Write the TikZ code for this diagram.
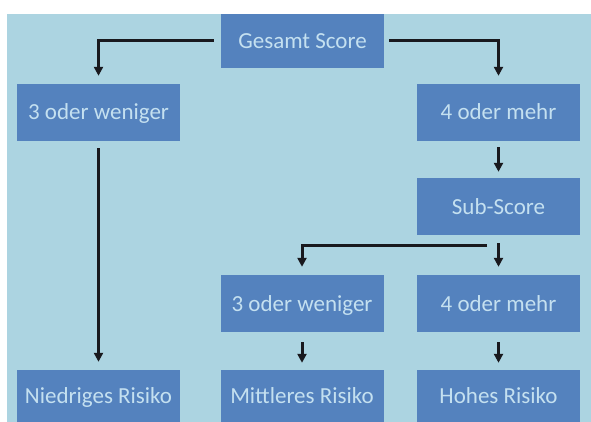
\documentclass[tikz,border=0pt]{standalone}
\usepackage{fontspec}
\setmainfont{Carlito}
\usetikzlibrary{arrows.meta}
\definecolor{bgblue}{RGB}{172,212,225}
\definecolor{boxblue}{RGB}{84,130,190}
\definecolor{txtblue}{RGB}{196,224,240}
\definecolor{linecol}{RGB}{25,25,30}
\tikzset{
  box/.style={fill=boxblue, draw=none, text=txtblue, minimum width=163pt,
    minimum height=57pt, inner sep=0pt, text height=16pt, text depth=1pt,
    font=\fontsize{23}{27}\selectfont},
  conn/.style={draw=linecol, line width=3pt,
    -{Triangle[length=9pt,width=9pt]}}
}
\begin{document}
\begin{tikzpicture}[x=1pt,y=-1pt]
\useasboundingbox (0,0) rectangle (591,422);
\fill[white] (0,0) rectangle (591,422);
\fill[bgblue] (7,14) rectangle (591,422);
% nodes
\node[box, minimum height=54pt] (g) at (302.5,41) {Gesamt Score};
\node[box] (l1) at (98.5,112.5) {3 oder weniger};
\node[box] (r1) at (498.5,112.5) {4 oder mehr};
\node[box] (sub) at (498.5,206.5) {Sub-Score};
\node[box] (m2) at (302,303.5) {3 oder weniger};
\node[box] (r2) at (498.5,303.5) {4 oder mehr};
\node[box, minimum height=52pt] (nied) at (98.5,396) {Niedriges Risiko};
\node[box, minimum height=52pt] (mit) at (302,396) {Mittleres Risiko};
\node[box, minimum height=52pt] (hoch) at (498.5,396) {Hohes Risiko};
% connectors
\draw[conn] ([xshift=-7pt]g.west) -| ([yshift=8pt]l1.north);
\draw[conn] ([xshift=5pt]g.east) -| ([yshift=8pt]r1.north);
\draw[conn] ([yshift=-7pt]l1.south) -- ([yshift=8pt]nied.north);
\draw[conn] ([yshift=-6pt]r1.south) -- ([yshift=6pt]sub.north);
\draw[conn] ([yshift=-8pt]sub.south) -- ([yshift=8pt]r2.north);
\draw[conn] ([xshift=-11.5pt,yshift=-10pt]sub.south) -| ([yshift=8pt]m2.north);
\draw[conn] ([yshift=-10pt]m2.south) -- ([yshift=7pt]mit.north);
\draw[conn] ([yshift=-10pt]r2.south) -- ([yshift=7pt]hoch.north);
\end{tikzpicture}
\end{document}
